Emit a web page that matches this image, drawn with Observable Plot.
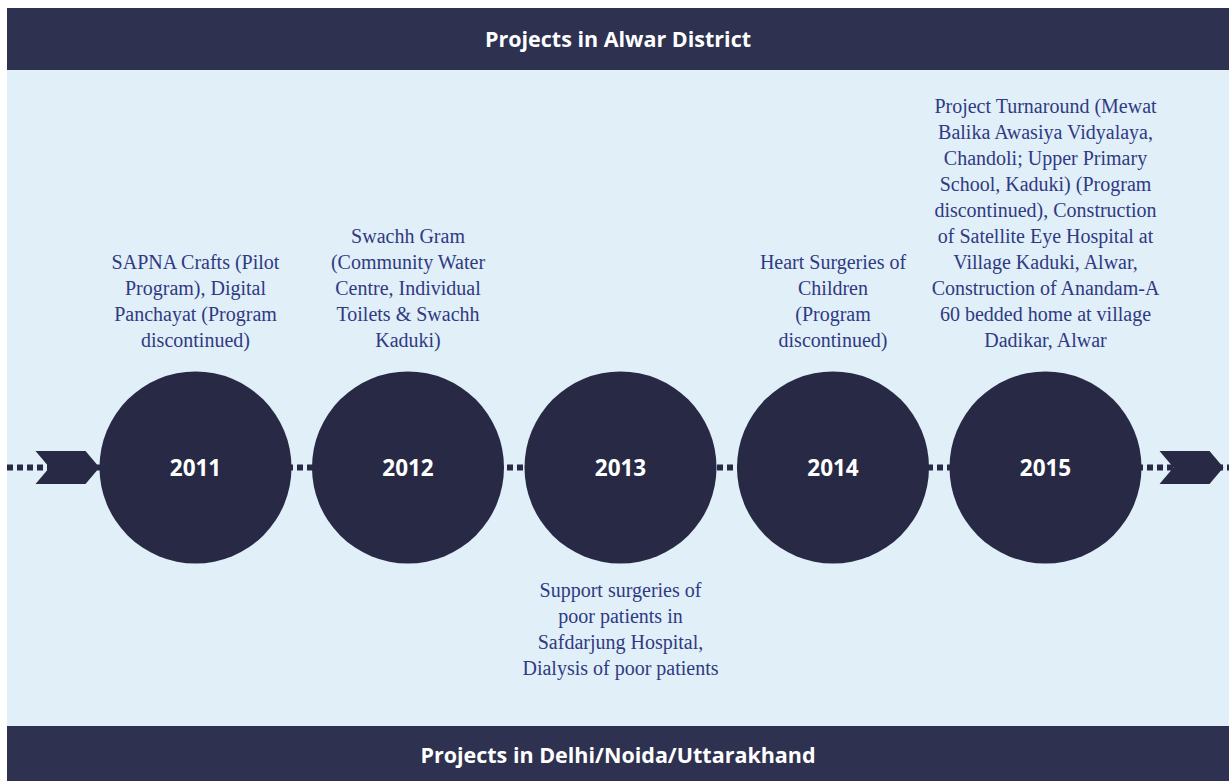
<!DOCTYPE html>
<html>
<head>
<meta charset="utf-8">
<script src="https://cdn.jsdelivr.net/npm/d3@7"></script>
<script src="https://cdn.jsdelivr.net/npm/@observablehq/plot@0.6"></script>
<style>
  html, body { margin: 0; padding: 0; background: #ffffff; }
  #wrap { position: absolute; left: 7px; top: 8px; width: 1222px; }
  .bar { background: #2e3150; color: #ffffff; font-family: "Open Sans", sans-serif; font-weight: 700; font-size: 21.5px; display: flex; align-items: center; justify-content: center; }
  #top { height: 62px; padding-bottom: 2px; box-sizing: border-box; }
  #bottom { height: 55px; padding-top: 2px; box-sizing: border-box; }
  #chart svg { display: block; }
</style>
</head>
<body>
<div id="wrap">
  <div id="top" class="bar">Projects in Alwar District</div>
  <div id="chart"></div>
  <div id="bottom" class="bar">Projects in Delhi/Noida/Uttarakhand</div>
</div>
<script>
const years = [2011, 2012, 2013, 2014, 2015];
const aboveLabels = [
  "SAPNA Crafts (Pilot\nProgram), Digital\nPanchayat (Program\ndiscontinued)",
  "Swachh Gram\n(Community Water\nCentre, Individual\nToilets & Swachh\nKaduki)",
  "",
  "Heart Surgeries of\nChildren\n(Program\ndiscontinued)",
  "Project Turnaround (Mewat\nBalika Awasiya Vidyalaya,\nChandoli; Upper Primary\nSchool, Kaduki) (Program\ndiscontinued), Construction\nof Satellite Eye Hospital at\nVillage Kaduki, Alwar,\nConstruction of Anandam-A\n60 bedded home at village\nDadikar, Alwar"
];
const belowLabels = [
  "",
  "",
  "Support surgeries of\npoor patients in\nSafdarjung Hospital,\nDialysis of poor patients",
  "",
  ""
];
const arrowEnds = ["start", "end"];

const data = years.map((y, i) => ({year: y, above: aboveLabels[i], below: belowLabels[i]}));

const dark = "#282a45";
const textColor = "#2f3a82";

const chevron = {
  draw(context) {
    context.moveTo(-32, -16.5);
    context.lineTo(18, -16.5);
    context.lineTo(32, 0);
    context.lineTo(18, 16.5);
    context.lineTo(-32, 16.5);
    context.lineTo(-18, 0);
    context.closePath();
  }
};

const chart = Plot.plot({
  width: 1222,
  height: 656,
  marginTop: 138,
  marginBottom: 0,
  marginLeft: 0,
  marginRight: 0,
  style: {background: "#e1eff9", overflow: "visible"},
  x: {domain: [2011, 2015], range: [188, 1038], axis: null},
  marks: [
    Plot.ruleY([0], {y: null, stroke: dark, strokeWidth: 6, strokeDasharray: "6,4", frameAnchor: "middle"}),
    Plot.dot(arrowEnds.slice(0, 1), {frameAnchor: "left", dx: 60, symbol: chevron, fill: dark, stroke: null, r: 10}),
    Plot.dot(arrowEnds.slice(1), {frameAnchor: "right", dx: -38, symbol: chevron, fill: dark, stroke: null, r: 10}),
    Plot.dot(data, {x: "year", r: 96, fill: dark, stroke: null}),
    Plot.text(data, {x: "year", text: d => String(d.year), fill: "#ffffff", fontSize: 22.5, fontWeight: 700, fontFamily: "Open Sans", dy: 1}),
    Plot.text(data, {x: "year", text: "above", lineAnchor: "bottom", dy: -121, fill: textColor, fontSize: 20, lineHeight: 1.3, fontFamily: "Liberation Serif"}),
    Plot.text(data, {x: "year", text: "below", lineAnchor: "top", dy: 111, fill: textColor, fontSize: 20, lineHeight: 1.3, fontFamily: "Liberation Serif"})
  ]
});
document.getElementById("chart").appendChild(chart);
</script>
</body>
</html>
